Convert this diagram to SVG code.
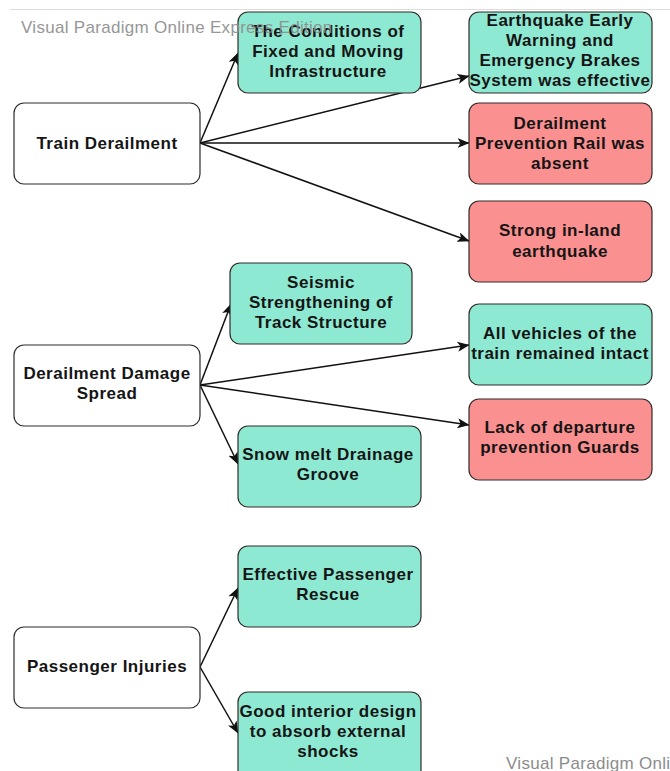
<svg xmlns="http://www.w3.org/2000/svg" width="670" height="771" viewBox="0 0 670 771">
  <defs>
    <style>
      .box { stroke: #332a2a; stroke-width: 1.2; }
      .plain { fill: #ffffff; }
      .good { fill: #8ee9d2; }
      .bad { fill: #fa9090; }
      .lbl { font-family: "Liberation Sans", Arial, sans-serif; font-size: 17px; font-weight: bold; fill: #151515; text-anchor: middle; letter-spacing: 0.5px; }
      .edge { stroke: #111111; stroke-width: 1.5; fill: none; marker-end: url(#arrow); }
      .wm { font-family: "Liberation Sans", Arial, sans-serif; font-size: 17px; fill: #8c8c8c; letter-spacing: 0.3px; }
    </style>
    <marker id="arrow" viewBox="0 0 12 10" refX="11.5" refY="5" markerWidth="12" markerHeight="10" markerUnits="userSpaceOnUse" orient="auto">
      <path d="M0,0 L12,5 L0,10 L3,5 Z" fill="#111111"/>
    </marker>
  </defs>

  <rect width="670" height="771" fill="#ffffff"/>
  <line x1="10" y1="9.5" x2="670" y2="9.5" stroke="#dddddd" stroke-width="1"/>

  <!-- connectors -->
  <g id="connectors">
    <path class="edge" d="M200,143 L238,53"/>
    <path class="edge" d="M200,143 L469,76"/>
    <path class="edge" d="M200,143 L469,143"/>
    <path class="edge" d="M200,143 L469,241"/>
    <path class="edge" d="M200,385 L231,304"/>
    <path class="edge" d="M200,385 L469,345"/>
    <path class="edge" d="M200,385 L469,425"/>
    <path class="edge" d="M200,385 L238,464"/>
    <path class="edge" d="M200,667 L238,588"/>
    <path class="edge" d="M200,667 L238,733"/>
  </g>

  <!-- root causes -->
  <g id="train-derailment">
    <rect class="box plain" x="14" y="103" width="186" height="81" rx="10"/>
    <text class="lbl" x="107" y="149">Train Derailment</text>
  </g>
  <g id="damage-spread">
    <rect class="box plain" x="14" y="345" width="186" height="81" rx="10"/>
    <text class="lbl" x="107" y="379">Derailment Damage</text>
    <text class="lbl" x="107" y="399">Spread</text>
  </g>
  <g id="passenger-injuries">
    <rect class="box plain" x="14" y="627" width="186" height="81" rx="10"/>
    <text class="lbl" x="107" y="672">Passenger Injuries</text>
  </g>

  <!-- factors -->
  <g id="infrastructure">
    <rect class="box good" x="238" y="12" width="183" height="81" rx="10"/>
    <text class="lbl" x="328" y="37">The Conditions of</text>
    <text class="lbl" x="328" y="57">Fixed and Moving</text>
    <text class="lbl" x="328" y="77">Infrastructure</text>
  </g>
  <g id="early-warning">
    <rect class="box good" x="469" y="12" width="183" height="81" rx="10"/>
    <text class="lbl" x="560" y="26">Earthquake Early</text>
    <text class="lbl" x="560" y="46">Warning and</text>
    <text class="lbl" x="560" y="66">Emergency Brakes</text>
    <text class="lbl" x="560" y="86">System was effective</text>
  </g>
  <g id="prevention-rail">
    <rect class="box bad" x="469" y="103" width="183" height="81" rx="10"/>
    <text class="lbl" x="560" y="129">Derailment</text>
    <text class="lbl" x="560" y="149">Prevention Rail was</text>
    <text class="lbl" x="560" y="169">absent</text>
  </g>
  <g id="earthquake">
    <rect class="box bad" x="469" y="201" width="183" height="81" rx="10"/>
    <text class="lbl" x="560" y="236">Strong in-land</text>
    <text class="lbl" x="560" y="257">earthquake</text>
  </g>
  <g id="seismic">
    <rect class="box good" x="230" y="263" width="182" height="81" rx="10"/>
    <text class="lbl" x="321" y="288">Seismic</text>
    <text class="lbl" x="321" y="308">Strengthening of</text>
    <text class="lbl" x="321" y="328">Track Structure</text>
  </g>
  <g id="vehicles-intact">
    <rect class="box good" x="469" y="304" width="183" height="81" rx="10"/>
    <text class="lbl" x="560" y="339">All vehicles of the</text>
    <text class="lbl" x="560" y="359">train remained intact</text>
  </g>
  <g id="departure-guards">
    <rect class="box bad" x="469" y="399" width="183" height="81" rx="10"/>
    <text class="lbl" x="560" y="433">Lack of departure</text>
    <text class="lbl" x="560" y="453">prevention Guards</text>
  </g>
  <g id="drainage-groove">
    <rect class="box good" x="238" y="426" width="183" height="81" rx="10"/>
    <text class="lbl" x="328" y="460">Snow melt Drainage</text>
    <text class="lbl" x="328" y="480">Groove</text>
  </g>
  <g id="rescue">
    <rect class="box good" x="238" y="546" width="183" height="81" rx="10"/>
    <text class="lbl" x="328" y="580">Effective Passenger</text>
    <text class="lbl" x="328" y="600">Rescue</text>
  </g>
  <g id="interior-design">
    <rect class="box good" x="238" y="692" width="183" height="90" rx="10"/>
    <text class="lbl" x="328" y="717">Good interior design</text>
    <text class="lbl" x="328" y="737">to absorb external</text>
    <text class="lbl" x="328" y="757">shocks</text>
  </g>

  <!-- editor watermarks -->
  <text class="wm" x="21" y="33" opacity="0.9">Visual Paradigm Online Express Edition</text>
  <text class="wm" x="506" y="769">Visual Paradigm Online</text>
</svg>
